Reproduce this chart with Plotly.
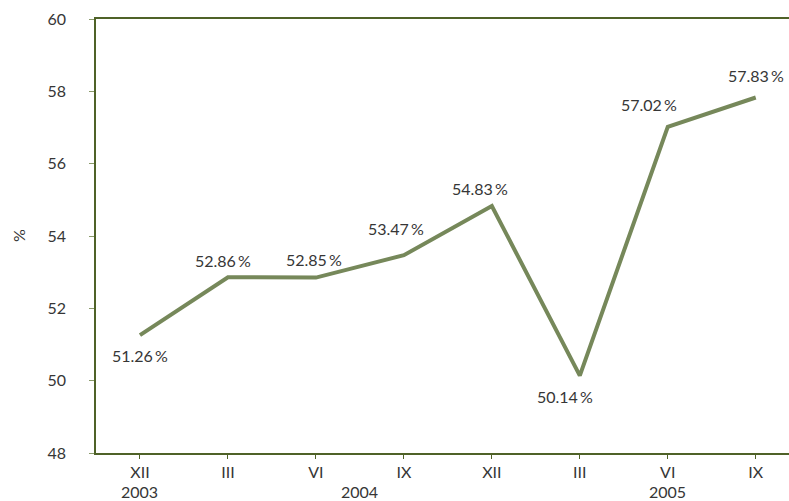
import plotly.graph_objects as go

months = ["XII", "III", "VI", "IX", "XII", "III", "VI", "IX"]
values = [51.26, 52.86, 52.85, 53.47, 54.83, 50.14, 57.02, 57.83]
years = ["2003", "2004", "2005"]
year_pos = [0, 2.5, 6]
y_ticks = [48, 50, 52, 54, 56, 58, 60]

# label offsets (px)
label_dx = [0, -5, -2, -8, -12, -15, -19, 0]
label_dy = [-20, 17, 18, 27, 17, -21, 22, 22]

xs = list(range(len(months)))
fnt = "Lato, 'Open Sans', sans-serif"
txtc = "#363636"
axc = "#4f6228"
fs = 16

fig = go.Figure()
fig.add_trace(go.Scatter(
    x=xs, y=values, mode="lines",
    line=dict(color="#76885a", width=4),
    hoverinfo="skip", showlegend=False,
))

for i, v in enumerate(values):
    fig.add_annotation(
        x=i, y=v, text=f"{v:.2f}\u2009%", showarrow=False,
        xshift=label_dx[i], yshift=label_dy[i],
        font=dict(family=fnt, size=fs, color=txtc),
    )

for yl, yp in zip(years, year_pos):
    fig.add_annotation(
        x=yp, y=0, xref="x", yref="paper", yanchor="top", xanchor="center",
        text=yl, showarrow=False, yshift=-27,
        font=dict(family=fnt, size=fs, color=txtc),
    )

fig.add_annotation(
    x=0, y=0.5, xref="paper", yref="paper", xshift=-78,
    xanchor="center", yanchor="middle",
    text="%", textangle=-90, showarrow=False,
    font=dict(family=fnt, size=fs, color=txtc),
)

fig.update_layout(
    width=789, height=501,
    margin=dict(l=96, r=0, t=19, b=48),
    plot_bgcolor="white", paper_bgcolor="white",
    xaxis=dict(
        tickmode="array", tickvals=xs, ticktext=months,
        range=[-0.5, 7.378], showgrid=False, zeroline=False,
        showline=True, linecolor=axc, linewidth=1.5, mirror=True,
        ticks="outside", ticklen=4, tickcolor=axc, tickson="boundaries",
        tickfont=dict(family=fnt, size=fs, color=txtc), automargin=False,
    ),
    yaxis=dict(
        range=[48, 60], tickvals=y_ticks, showgrid=False, zeroline=False,
        showline=True, linecolor=axc, linewidth=1.5,
        ticks="outside", ticklen=5, tickcolor="#8a9a6a",
        ticklabelstandoff=20,
        tickfont=dict(family=fnt, size=fs, color=txtc), automargin=False,
    ),
)

fig.write_html(
    "out.html",
    config={"displayModeBar": False},
    post_script="document.body.style.margin='0';document.body.style.overflow='hidden';",
)
